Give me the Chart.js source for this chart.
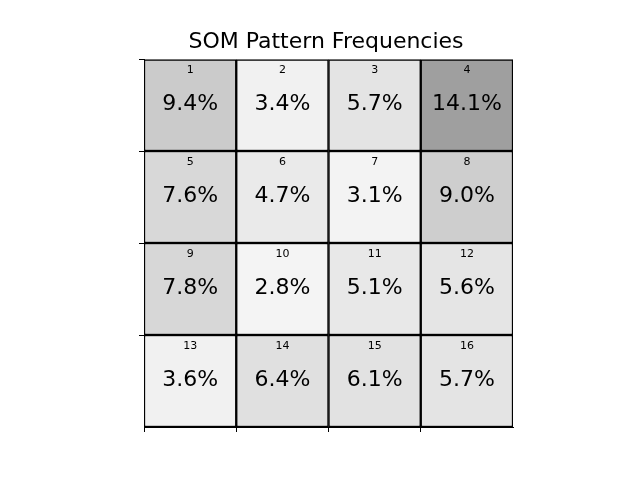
<!DOCTYPE html>
<html>
<head>
<meta charset="utf-8">
<script src="https://cdn.jsdelivr.net/npm/chart.js@4/dist/chart.umd.min.js"></script>
<style>
  html, body { margin: 0; padding: 0; background: #ffffff; }
  #wrap { width: 640px; height: 480px; }
</style>
</head>
<body>
<div id="wrap"><canvas id="c" width="640" height="480"></canvas></div>
<script>
// ---- data ----
const chartTitle = 'SOM Pattern Frequencies';
const gridSize = 4;
const patternIds = [1, 2, 3, 4, 5, 6, 7, 8, 9, 10, 11, 12, 13, 14, 15, 16];
const frequencies = [9.4, 3.4, 5.7, 14.1, 7.6, 4.7, 3.1, 9.0, 7.8, 2.8, 5.1, 5.6, 3.6, 6.4, 6.1, 5.7];
const tickValues = [0, 1, 2, 3];

// Greys-like colour ramp
const greysStops = [255, 240, 217, 189, 150, 115, 82, 37, 0];
function greyFor(v) {
  const maxV = Math.max(...frequencies);
  const t = (v / maxV) * 0.47;
  const pos = t * (greysStops.length - 1);
  const i = Math.min(Math.floor(pos), greysStops.length - 2);
  const f = pos - i;
  const g = Math.round(greysStops[i] + (greysStops[i + 1] - greysStops[i]) * f);
  return 'rgb(' + g + ',' + g + ',' + g + ')';
}

const cellData = patternIds.map((id, k) => {
  const row = Math.floor(k / gridSize);
  const col = k % gridSize;
  return { x: col + 0.5, y: [row, row + 1] };
});
const cellColors = frequencies.map(greyFor);

const cellLabels = {
  id: 'cellLabels',
  afterDatasetsDraw(chart) {
    const ctx = chart.ctx;
    const xs = chart.scales.x, ys = chart.scales.y;
    ctx.save();
    ctx.fillStyle = '#000';
    ctx.textAlign = 'center';
    ctx.textBaseline = 'alphabetic';
    patternIds.forEach((id, k) => {
      const row = Math.floor(k / gridSize);
      const col = k % gridSize;
      const cx = xs.getPixelForValue(col + 0.5);
      ctx.font = '11px "DejaVu Sans"';
      ctx.fillText(String(id), cx, ys.getPixelForValue(row + 0.147));
      ctx.font = '22px "DejaVu Sans"';
      ctx.fillText(frequencies[k].toFixed(1) + '%', cx, ys.getPixelForValue(row + 0.554));
    });
    ctx.restore();
  }
};

const tickColor = (c) => (c.tick && tickValues.indexOf(c.tick.value) >= 0) ? '#000' : 'rgba(0,0,0,0)';

new Chart(document.getElementById('c'), {
  type: 'bar',
  data: {
    datasets: [{
      data: cellData,
      backgroundColor: cellColors,
      borderColor: '#000',
      borderWidth: 1.5,
      borderSkipped: false,
      barPercentage: 1,
      categoryPercentage: 1
    }]
  },
  options: {
    responsive: false,
    animation: false,
    layout: { padding: { left: 139, right: 127, top: 0, bottom: 48 } },
    plugins: {
      legend: { display: false },
      tooltip: { enabled: false },
      title: {
        display: true,
        text: chartTitle,
        color: '#000',
        font: { family: 'DejaVu Sans', size: 22, weight: 'normal', lineHeight: 1.2 },
        padding: { top: 28.8, bottom: 3.8 }
      }
    },
    scales: {
      x: {
        type: 'linear',
        offset: false,
        min: 0, max: gridSize,
        ticks: { stepSize: 1, callback: () => '' },
        grid: { offset: false, drawOnChartArea: false, tickLength: 5, color: tickColor, tickColor: tickColor, lineWidth: 1 },
        border: { display: true, color: '#000', width: 1 },
        afterFit: (s) => { s.height = 5; }
      },
      y: {
        type: 'linear',
        min: 0, max: gridSize,
        reverse: true,
        ticks: { stepSize: 1, callback: () => '' },
        grid: { drawOnChartArea: false, tickLength: 5, color: tickColor, tickColor: tickColor, lineWidth: 1 },
        border: { display: true, color: '#000', width: 1 },
        afterFit: (s) => { s.width = 5; }
      }
    }
  },
  plugins: [cellLabels]
});
</script>
</body>
</html>
